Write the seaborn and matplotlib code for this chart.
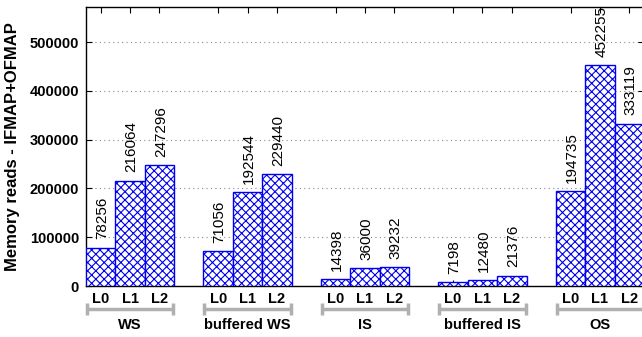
import numpy as np
import pandas as pd
import matplotlib
matplotlib.use("Agg")
import matplotlib.pyplot as plt
import matplotlib.transforms as mtransforms
import seaborn as sns

# values
groups = ["WS", "buffered WS", "IS", "buffered IS", "OS"]
levels = ["L0", "L1", "L2"]
ws          = [78256, 216064, 247296]
buffered_ws = [71056, 192544, 229440]
is_         = [14398, 36000, 39232]
buffered_is = [7198, 12480, 21376]
os_         = [194735, 452255, 333119]
yticks      = [0, 100000, 200000, 300000, 400000, 500000]

series = [ws, buffered_ws, is_, buffered_is, os_]

sns.set_style("white")
plt.rcParams["font.family"] = ["Liberation Sans", "DejaVu Sans"]
plt.rcParams["hatch.linewidth"] = 0.8
plt.rcParams["text.color"] = "black"
plt.rcParams["axes.labelcolor"] = "black"
plt.rcParams["xtick.color"] = "black"
plt.rcParams["ytick.color"] = "black"

rows = []
for g, (name, vals) in enumerate(zip(groups, series)):
    for i, (lvl, v) in enumerate(zip(levels, vals)):
        rows.append({"group": name, "level": lvl, "pos": 4 * g + i, "reads": v})
df = pd.DataFrame(rows)

fig = plt.figure(figsize=(6.42, 3.37), dpi=100)
ax = fig.add_axes([86 / 642, 51 / 337, 558 / 642, 279 / 337])

sns.barplot(data=df, x="pos", y="reads", native_scale=True, width=1.0,
            color="white", saturation=1, edgecolor="#0000ee", linewidth=1.0,
            hatch="xxxx", errorbar=None, ax=ax, zorder=3)

ax.set_xlim(-0.5, 18.5)
ax.set_ylim(0, 572000)
ax.set_yticks(yticks)
ax.set_yticklabels([str(t) for t in yticks], fontsize=10.5, fontweight="bold")
ax.yaxis.grid(True, linestyle=(0, (1, 3)), color="#888888", linewidth=0.8, zorder=0)
ax.set_axisbelow(True)

ax.set_xticks(df["pos"])
ax.set_xticklabels(df["level"], fontsize=10.5, fontweight="bold")
ax.tick_params(axis="x", direction="in", top=True, bottom=True, length=4, pad=4)
ax.tick_params(axis="y", direction="in", left=True, right=True, length=4, pad=5)
ax.set_xlabel("")
ax.set_ylabel("Memory reads - IFMAP+OFMAP", fontsize=12, fontweight="bold", labelpad=7)
for s in ax.spines.values():
    s.set_color("black")
    s.set_linewidth(1.0)

# value labels above bars
for _, r in df.iterrows():
    ax.annotate(str(r["reads"]), (r["pos"], r["reads"]), xytext=(1, 6),
                textcoords="offset points", rotation=90, ha="center", va="bottom",
                fontsize=11, annotation_clip=False)

# group brackets
trans = mtransforms.blended_transform_factory(ax.transData, ax.transAxes)
yb = -(309 - 286) / 279
cap = 6 / 279
for g, name in enumerate(groups):
    x0, x1 = 4 * g - 0.5, 4 * g + 2.5
    kw = dict(transform=trans, color="#b0b0b0", lw=2.5, clip_on=False, solid_capstyle="butt")
    ax.plot([x0, x1], [yb, yb], **kw)
    ax.plot([x0 + 0.03, x0 + 0.03], [yb - cap, yb + cap], **kw)
    ax.plot([x1 - 0.03, x1 - 0.03], [yb - cap, yb + cap], **kw)
    ax.text(4 * g + 1, -(325 - 286) / 279, name, transform=trans, ha="center",
            va="center", fontsize=10.5, fontweight="bold")

fig.savefig("out.png", dpi=100)
